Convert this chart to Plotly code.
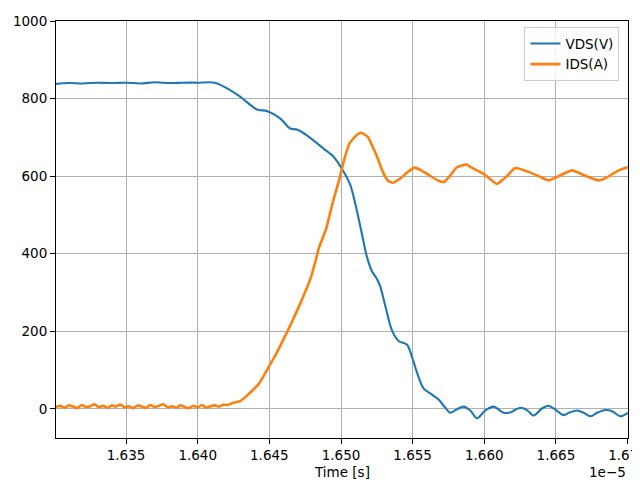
import plotly.graph_objects as go

SCALE = 1e-5  # time values below are in units of 1e-5 s

# ---- VDS (V) ----
vds_t = [1.63011, 1.6310, 1.6320, 1.6330, 1.6340, 1.6350, 1.6360, 1.6370, 1.6380, 1.6390,
         1.6400, 1.6412, 1.64226, 1.64296, 1.64413, 1.64483, 1.64575, 1.64645, 1.64692, 1.64762,
         1.64878, 1.64948, 1.65006, 1.65064, 1.65111, 1.65146, 1.65181, 1.65216, 1.65251, 1.65274,
         1.65309, 1.65355, 1.65402, 1.6546, 1.65495, 1.6553, 1.65576, 1.65635, 1.65681, 1.65728,
         1.65763, 1.65809, 1.65855, 1.65902, 1.65949, 1.66007, 1.66065, 1.66135, 1.66181, 1.66251,
         1.66298, 1.66344, 1.66403, 1.66449, 1.66496, 1.66554, 1.6659, 1.66647, 1.66693, 1.6674,
         1.66787, 1.66845, 1.66892, 1.6695, 1.67002]
vds_v = [838, 840, 839, 841, 840, 841, 839, 842, 840, 841,
         841, 841, 822, 805, 772, 768, 749, 723, 720, 705,
         671, 650, 619, 578, 511, 451, 392, 355, 335, 316,
         266, 203, 175, 166, 135, 94, 53, 37, 24, 3,
         -10, -1, 6, -4, -24, -4, 6, -10, -9, 3,
         -3, -17, 1, 8, -2, -16, -10, -4, -10, -19,
         -10, -3, -6, -19, -10]

# ---- IDS (A) ----
ids_t = [1.6301, 1.6304, 1.6307, 1.6310, 1.6313, 1.6316, 1.6319, 1.6322, 1.6325, 1.6328,
         1.6331, 1.6334, 1.6337, 1.6340, 1.6343, 1.6346, 1.6349, 1.6352, 1.6355, 1.6358,
         1.6361, 1.6364, 1.6367, 1.6370, 1.6373, 1.6376, 1.6379, 1.6382, 1.6385, 1.6388,
         1.6391, 1.6394, 1.6397, 1.6400, 1.6403, 1.6406, 1.6409, 1.6412, 1.6415, 1.6418,
         1.6421, 1.6425, 1.64296, 1.64340, 1.64389, 1.64425, 1.64459, 1.64506, 1.64540, 1.64575,
         1.64633, 1.64692, 1.64738, 1.64785, 1.6482, 1.64843, 1.64896, 1.64943, 1.64989, 1.65024,
         1.65059, 1.65106, 1.65141, 1.65187, 1.65222, 1.65257, 1.65292, 1.65327, 1.65362, 1.6542,
         1.65467, 1.65513, 1.6556, 1.65618, 1.65676, 1.6572, 1.65765, 1.65809, 1.65878, 1.65902,
         1.65995, 1.66088, 1.66123, 1.66158, 1.66216, 1.66309, 1.66380, 1.66449, 1.66496, 1.66612,
         1.66705, 1.66798, 1.66856, 1.66938, 1.67002]
ids_v = [5, 8, 3, 9, 6, 2, 10, 5, 7, 12,
         4, 8, 3, 9, 6, 11, 4, 7, 2, 9,
         6, 3, 10, 5, 8, 12, 4, 7, 3, 9,
         5, 2, 8, 4, 10, 3, 7, 9, 6, 11,
         10, 16, 20, 33, 50, 64, 84, 115, 137, 162,
         205, 252, 291, 334, 378, 412, 464, 533, 593, 645,
         684, 705, 712, 701, 675, 645, 611, 589, 583, 596,
         611, 622, 615, 602, 589, 585, 603, 623, 630, 624,
         606, 580, 589, 600, 621, 611, 600, 589, 596, 615,
         601, 589, 597, 615, 623]

x_tick_labels = ["1.635", "1.640", "1.645", "1.650", "1.655", "1.660", "1.665", "1.670"]
y_ticks = [0, 200, 400, 600, 800, 1000]

fig = go.Figure()
fig.add_trace(go.Scatter(x=[t * SCALE for t in vds_t], y=vds_v, mode="lines", name="VDS(V)",
                         line=dict(color="#1f77b4", width=2.1, shape="spline", smoothing=0.8)))
fig.add_trace(go.Scatter(x=[t * SCALE for t in ids_t], y=ids_v, mode="lines", name="IDS(A)",
                         line=dict(color="#ff7f0e", width=2.6, shape="spline", smoothing=0.5)))

font = dict(family="DejaVu Sans", size=13.5, color="black")
axis_common = dict(showline=True, linecolor="black", linewidth=1, mirror=True,
                   ticks="outside", ticklen=5, tickcolor="black", tickwidth=1,
                   showgrid=True, gridcolor="#b0b0b0", gridwidth=0.8, zeroline=False,
                   tickfont=font, automargin=False, ticklabeloverflow="allow")

# page body has an 8px default margin, so the figure is sized/offset to compensate
fig.update_layout(
    width=632, height=472,
    margin=dict(l=48, r=12, t=13, b=42),
    plot_bgcolor="white", paper_bgcolor="white",
    font=font,
    showlegend=True,
    legend=dict(x=0.985, y=0.985, xanchor="right", yanchor="top",
                bgcolor="rgba(255,255,255,0.8)", bordercolor="#cccccc", borderwidth=1,
                font=font, itemwidth=30, tracegroupgap=0),
    xaxis=dict(range=[1.63011e-5, 1.67003e-5],
               tickvals=[float(s) * SCALE for s in x_tick_labels], ticktext=x_tick_labels,
               **axis_common),
    yaxis=dict(range=[-75, 1000], tickvals=y_ticks, ticktext=[str(v) for v in y_ticks],
               **axis_common),
    annotations=[
        dict(text="Time [s]", x=0.5, y=-0.082, xref="paper", yref="paper",
             xanchor="center", yanchor="middle", showarrow=False, font=font),
        dict(text="1e\u22125", x=1.0, y=-0.082, xref="paper", yref="paper",
             xanchor="right", yanchor="middle", showarrow=False, font=font),
    ],
)

fig.write_html("out.html")
